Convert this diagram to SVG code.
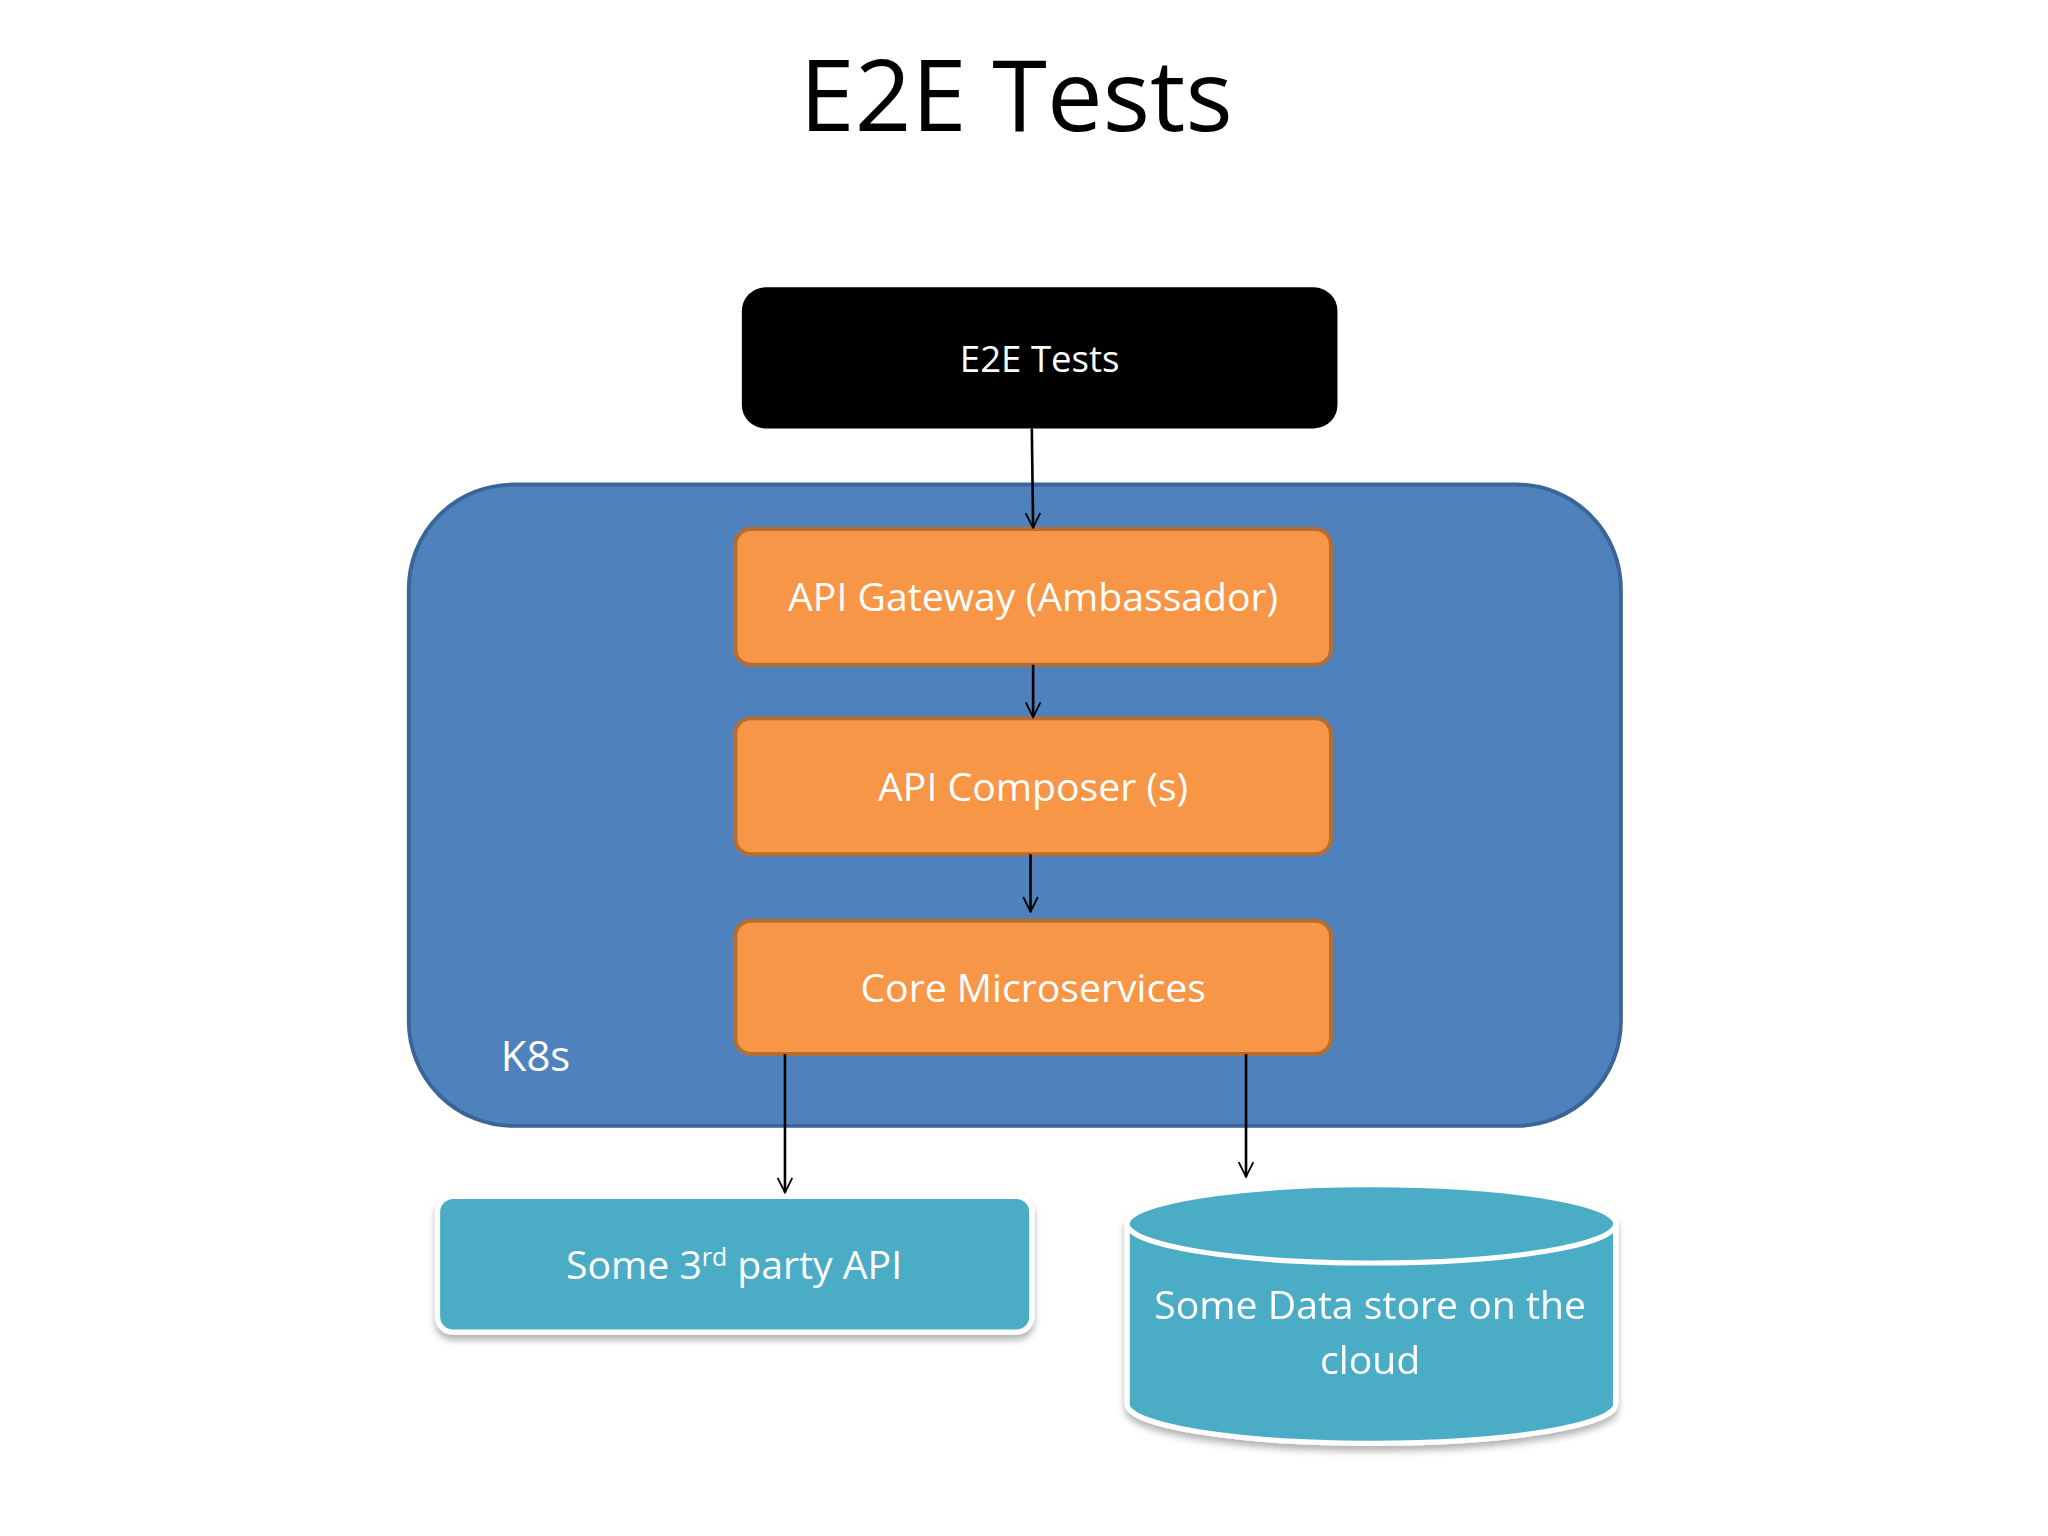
<svg xmlns="http://www.w3.org/2000/svg" width="2048" height="1536" viewBox="0 0 2048 1536">
<defs>
<style>
text{font-family:"Open Sans","Noto Sans",sans-serif;fill:#fff;text-anchor:middle}
.or{fill:#f79646;stroke:#b66d31;stroke-width:3}
.cn{stroke:#000;stroke-width:2;fill:none;marker-end:url(#ah)}
.lbl{font-size:30px}
</style>
<marker id="ah" viewBox="0 0 20 20" refX="18" refY="10" markerWidth="14" markerHeight="14" markerUnits="userSpaceOnUse" orient="auto"><path d="M2,2 L18,10 L2,18" fill="none" stroke="#000" stroke-width="2"/></marker>
<filter id="sh" x="-10%" y="-10%" width="120%" height="130%"><feDropShadow dx="0" dy="4" stdDeviation="3" flood-color="#000" flood-opacity="0.3"/></filter>
</defs>
<rect width="2048" height="1536" fill="#fff"/>
<g transform="scale(1.3061)">
<text x="778" y="100" style="fill:#000;font-size:76px">E2E Tests</text>
<g id="k8s"><rect x="313" y="371" width="928" height="491" rx="80" fill="#4f81bd" stroke="#3a6596" stroke-width="3"/><text x="410" y="820" style="font-size:32px">K8s</text></g>
<g id="e2e"><rect x="568" y="220" width="456" height="108" rx="18" fill="#000"/><text x="796" y="285" style="font-size:28px">E2E Tests</text></g>
<g id="gateway"><rect class="or" x="563" y="405" width="456" height="104" rx="12"/><text class="lbl" x="791" y="468">API Gateway (Ambassador)</text></g>
<g id="composer"><rect class="or" x="563" y="550" width="456" height="104" rx="12"/><text class="lbl" x="791" y="613">API Composer (s)</text></g>
<g id="core"><rect class="or" x="563" y="705" width="456" height="102" rx="12"/><text class="lbl" x="791" y="767">Core Microservices</text></g>
<g id="thirdparty"><rect x="335" y="916" width="455" height="104" rx="12" fill="#4bacc6" stroke="#fff" stroke-width="4" filter="url(#sh)"/><text class="lbl" x="562" y="979">Some 3<tspan dy="-10" font-size="19">rd</tspan><tspan dy="10"> party API</tspan></text></g>
<g id="datastore" filter="url(#sh)"><path d="M863,937 V1075 A187,30 0 0 0 1237,1075 V937" fill="#4bacc6" stroke="#fff" stroke-width="4"/><ellipse cx="1050" cy="937" rx="187" ry="30" fill="#4bacc6" stroke="#fff" stroke-width="4"/><text class="lbl" x="1049" y="1010">Some Data store on the</text><text class="lbl" x="1049" y="1052">cloud</text></g>
<g id="connectors">
<path class="cn" d="M790,328 L791,404"/>
<path class="cn" d="M791,509 L791,549"/>
<path class="cn" d="M789,654 L789,698"/>
<path class="cn" d="M601,807 L601,913"/>
<path class="cn" d="M954,807 L954,901"/>
</g>
</g>
</svg>
